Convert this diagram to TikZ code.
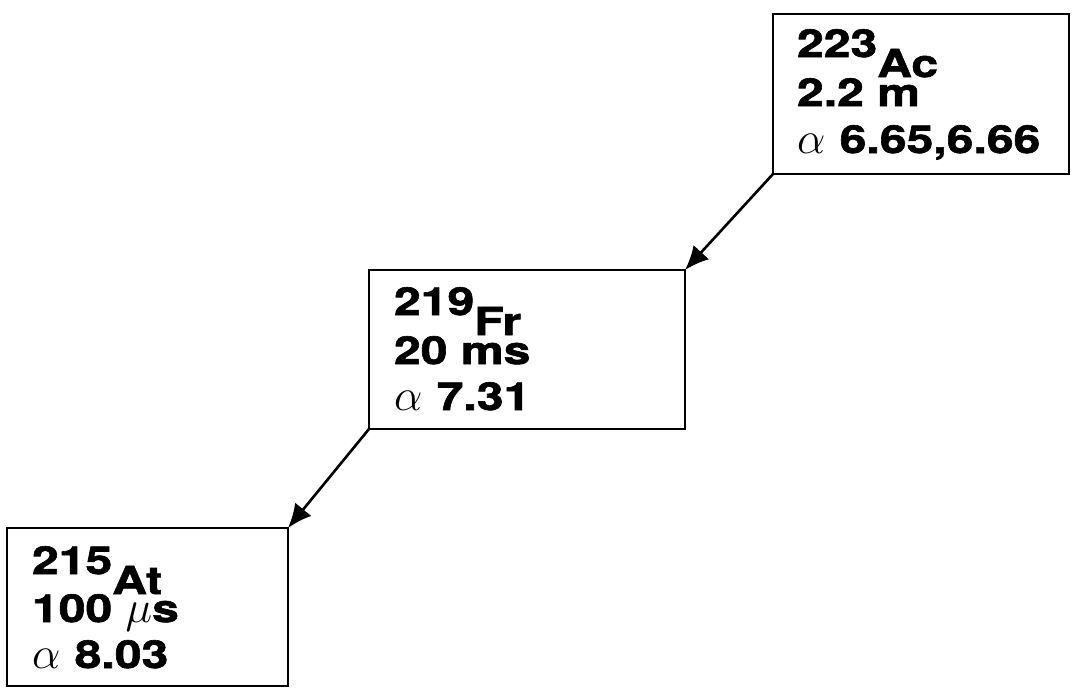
\documentclass[tikz,border=0pt]{standalone}
\usepackage{fix-cm}
\usepackage{fontspec}
\newfontfamily\nucfont{TeX Gyre Heros Bold}[FakeStretch=1.25, FakeBold=1.6]
\newcommand\nucgreek[1]{{\fontsize{45}{48}\selectfont$#1$}}
\usetikzlibrary{arrows.meta}
\begin{document}
\begin{tikzpicture}[x=1pt,y=-1pt,
  nucbox/.style={draw, line width=1.8pt, anchor=north west, inner sep=0pt, outer sep=0pt},
  lbl/.style={anchor=base west, inner sep=0pt, outer sep=0pt,
    font=\fontsize{38.5}{40}\selectfont\nucfont},
  decay/.style={line width=2.6pt, -{Latex[length=24pt,width=21pt]}}]
  \useasboundingbox (0,0) rectangle (1072,688);

  % actinium-223
  \node[nucbox, minimum width=296pt, minimum height=160pt] (ac) at (773,14) {};
  \node[lbl] (acA) at ([shift={(24pt,-43pt)}]ac.north west) {223};
  \node[lbl] (acZ) at ([yshift=-20pt]acA.base east) {Ac};
  \node[lbl] (acT) at ([shift={(24pt,-92pt)}]ac.north west) {2.2 m};
  \node[lbl] (acE) at ([shift={(24pt,-139pt)}]ac.north west) {\nucgreek{\alpha}\hspace{1pt} 6.65,6.66};

  % francium-219
  \node[nucbox, minimum width=316pt, minimum height=159pt] (fr) at (369,270) {};
  \node[lbl] (frA) at ([shift={(25pt,-45pt)}]fr.north west) {219};
  \node[lbl] (frZ) at ([yshift=-20pt]frA.base east) {Fr};
  \node[lbl] (frT) at ([shift={(25pt,-94pt)}]fr.north west) {20 ms};
  \node[lbl] (frE) at ([shift={(25pt,-140pt)}]fr.north west) {\nucgreek{\alpha}\hspace{1pt} 7.31};

  % astatine-215
  \node[nucbox, minimum width=281pt, minimum height=158pt] (at) at (7,528) {};
  \node[lbl] (atA) at ([shift={(25pt,-46pt)}]at.north west) {215};
  \node[lbl] (atZ) at ([yshift=-20pt]atA.base east) {At};
  \node[lbl] (atT) at ([shift={(25pt,-94pt)}]at.north west) {100 \nucgreek{\mu}s};
  \node[lbl] (atE) at ([shift={(25pt,-140pt)}]at.north west) {\nucgreek{\alpha}\hspace{1pt} 8.03};

  % decay arrows
  \draw[decay] (ac.south west) -- (fr.north east);
  \draw[decay] (fr.south west) -- (at.north east);
\end{tikzpicture}
\end{document}
